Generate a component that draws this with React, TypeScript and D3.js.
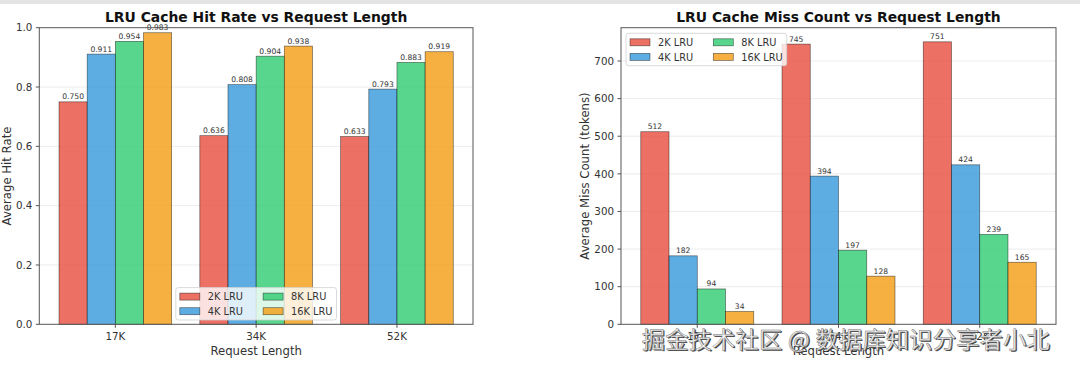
import React, { useEffect, useRef } from "react";
import * as d3 from "d3";

const categories = ["17K", "34K", "52K"];
const seriesNames = ["2K LRU", "4K LRU", "8K LRU", "16K LRU"];
const seriesColors = ["#e74c3c", "#3498db", "#2ecc71", "#f39c12"];

// hit rate per cache size
const hitRate2K = [0.75, 0.636, 0.633];
const hitRate4K = [0.911, 0.808, 0.793];
const hitRate8K = [0.954, 0.904, 0.883];
const hitRate16K = [0.983, 0.938, 0.919];

// miss count (tokens) per cache size
const miss2K = [512, 745, 751];
const miss4K = [182, 394, 424];
const miss8K = [94, 197, 239];
const miss16K = [34, 128, 165];

const hitTicks = [0, 0.2, 0.4, 0.6, 0.8, 1.0];
const missTicks = [0, 100, 200, 300, 400, 500, 600, 700];

const FONT = "DejaVu Sans, Liberation Sans, sans-serif";
const W = 1080;
const H = 366;

type Panel = {
  x0: number;
  x1: number;
  title: string;
  ylabel: string;
  ylabelX: number;
  series: number[][];
  yMax: number;
  ticks: number[];
  tickFmt: (v: number) => string;
  labelFmt: (v: number) => string;
  legend: "lower center" | "upper left";
};

function drawPanel(svg: d3.Selection<SVGSVGElement, unknown, null, undefined>, p: Panel) {
  const top = 27.7;
  const bottom = 324.3;
  const barW = 0.2;

  const g = svg.append("g");

  // matplotlib-like 5% margins around the bars
  const lo = -2 * barW;
  const hi = categories.length - 1 + 2 * barW;
  const pad = (hi - lo) * 0.05;
  const x = d3.scaleLinear().domain([lo - pad, hi + pad]).range([p.x0, p.x1]);
  const y = d3.scaleLinear().domain([0, p.yMax]).range([bottom, top]);

  // grid
  g.append("g")
    .selectAll("line")
    .data(p.ticks.filter((t) => t > 0 && t < p.yMax))
    .join("line")
    .attr("x1", p.x0)
    .attr("x2", p.x1)
    .attr("y1", (d) => y(d))
    .attr("y2", (d) => y(d))
    .attr("stroke", "#b0b0b0")
    .attr("stroke-opacity", 0.3)
    .attr("stroke-width", 0.8);

  // bars
  p.series.forEach((vals, j) => {
    const off = (j - 1.5) * barW;
    const sg = g.append("g");
    sg.selectAll("rect")
      .data(vals)
      .join("rect")
      .attr("x", (_, i) => x(i + off - barW / 2))
      .attr("width", x(barW) - x(0))
      .attr("y", (d) => y(d))
      .attr("height", (d) => bottom - y(d))
      .attr("fill", seriesColors[j])
      .attr("fill-opacity", 0.8)
      .attr("stroke", "#000")
      .attr("stroke-opacity", 0.55)
      .attr("stroke-width", 0.7);
    sg.selectAll("text")
      .data(vals)
      .join("text")
      .attr("x", (_, i) => x(i + off))
      .attr("y", (d) => y(d) - 2.5)
      .attr("text-anchor", "middle")
      .attr("font-size", 7.6)
      .attr("fill", "#333")
      .text((d) => p.labelFmt(d));
  });

  // frame
  g.append("rect")
    .attr("x", p.x0)
    .attr("y", top)
    .attr("width", p.x1 - p.x0)
    .attr("height", bottom - top)
    .attr("fill", "none")
    .attr("stroke", "#555")
    .attr("stroke-width", 1);

  // y ticks
  const yt = g.append("g").selectAll("g").data(p.ticks).join("g");
  yt.append("line")
    .attr("x1", p.x0 - 3.5)
    .attr("x2", p.x0)
    .attr("y1", (d) => y(d))
    .attr("y2", (d) => y(d))
    .attr("stroke", "#555");
  yt.append("text")
    .attr("x", p.x0 - 7)
    .attr("y", (d) => y(d) + 3.7)
    .attr("text-anchor", "end")
    .attr("font-size", 10.3)
    .attr("fill", "#333")
    .text((d) => p.tickFmt(d));

  // x ticks
  const xt = g.append("g").selectAll("g").data(categories).join("g");
  xt.append("line")
    .attr("x1", (_, i) => x(i))
    .attr("x2", (_, i) => x(i))
    .attr("y1", bottom)
    .attr("y2", bottom + 3.5)
    .attr("stroke", "#555");
  xt.append("text")
    .attr("x", (_, i) => x(i))
    .attr("y", bottom + 16)
    .attr("text-anchor", "middle")
    .attr("font-size", 10.3)
    .attr("fill", "#333")
    .text((d) => d);

  // labels
  g.append("text")
    .attr("x", (p.x0 + p.x1) / 2)
    .attr("y", 355)
    .attr("text-anchor", "middle")
    .attr("font-size", 11.7)
    .attr("fill", "#333")
    .text("Request Length");
  g.append("text")
    .attr("transform", `translate(${p.ylabelX},${(top + bottom) / 2}) rotate(-90)`)
    .attr("text-anchor", "middle")
    .attr("font-size", 11.7)
    .attr("fill", "#333")
    .text(p.ylabel);
  g.append("text")
    .attr("x", (p.x0 + p.x1) / 2)
    .attr("y", 21.7)
    .attr("text-anchor", "middle")
    .attr("font-size", 13.9)
    .attr("font-weight", "bold")
    .attr("fill", "#111")
    .text(p.title);

  // legend, 2 columns
  const lw = 160.7;
  const lh = 32.4;
  const lx = p.legend === "lower center" ? (p.x0 + p.x1) / 2 - lw / 2 : p.x0 + 5;
  const ly = p.legend === "lower center" ? bottom - 4.3 - lh : top + 5.6;
  const lg = g.append("g").attr("transform", `translate(${lx},${ly})`);
  lg.append("rect")
    .attr("width", lw)
    .attr("height", lh)
    .attr("rx", 2.5)
    .attr("fill", "#fff")
    .attr("fill-opacity", 0.8)
    .attr("stroke", "#d0d0d0")
    .attr("stroke-width", 0.8);
  const items = lg
    .selectAll("g")
    .data(seriesNames)
    .join("g")
    .attr("transform", (_, i) => `translate(${Math.floor(i / 2) * 83.3},${(i % 2) * 14.6 + 9})`);
  items
    .append("rect")
    .attr("x", 4)
    .attr("y", -3.5)
    .attr("width", 20)
    .attr("height", 7)
    .attr("fill", (_, i) => seriesColors[i])
    .attr("fill-opacity", 0.8)
    .attr("stroke", "#000")
    .attr("stroke-opacity", 0.55)
    .attr("stroke-width", 0.7);
  items
    .append("text")
    .attr("x", 32)
    .attr("y", 3.6)
    .attr("font-size", 9.8)
    .attr("fill", "#333")
    .text((d) => d);
}

export default function App() {
  const ref = useRef<SVGSVGElement>(null);

  useEffect(() => {
    const svg = d3.select(ref.current!);
    svg.selectAll("*").remove();
    svg.attr("font-family", FONT);

    svg.append("rect").attr("width", W).attr("height", H).attr("fill", "#fff");
    svg.append("rect").attr("width", W).attr("height", 4).attr("fill", "#e4e4e4");

    drawPanel(svg, {
      x0: 39.3,
      x1: 473,
      title: "LRU Cache Hit Rate vs Request Length",
      ylabel: "Average Hit Rate",
      ylabelX: 11,
      series: [hitRate2K, hitRate4K, hitRate8K, hitRate16K],
      yMax: 1,
      ticks: hitTicks,
      tickFmt: d3.format(".1f"),
      labelFmt: d3.format(".3f"),
      legend: "lower center",
    });

    const missMax = d3.max([...miss2K, ...miss4K, ...miss8K, ...miss16K]) as number;
    drawPanel(svg, {
      x0: 621,
      x1: 1056,
      title: "LRU Cache Miss Count vs Request Length",
      ylabel: "Average Miss Count (tokens)",
      ylabelX: 589,
      series: [miss2K, miss4K, miss8K, miss16K],
      yMax: missMax * 1.05,
      ticks: missTicks,
      tickFmt: d3.format("d"),
      labelFmt: d3.format("d"),
      legend: "upper left",
    });

    // watermark
    const wm = "掘金技术社区 @ 数据库知识分享者小北";
    const wg = svg
      .append("g")
      .attr("font-family", "Noto Sans CJK SC")
      .attr("font-size", 23.2);
    wg.append("text")
      .attr("x", 643)
      .attr("y", 349)
      .attr("textLength", 408)
      .attr("fill", "#444")
      .text(wm);
    wg.append("text")
      .attr("x", 641.7)
      .attr("y", 347.7)
      .attr("textLength", 408)
      .attr("fill", "#f2f2f2")
      .attr("stroke", "#777")
      .attr("stroke-width", 0.5)
      .text(wm);
  }, []);

  return (
    <div style={{ position: "absolute", left: 0, top: 0 }}>
      <svg ref={ref} width={W} height={H} style={{ display: "block" }} />
    </div>
  );
}
